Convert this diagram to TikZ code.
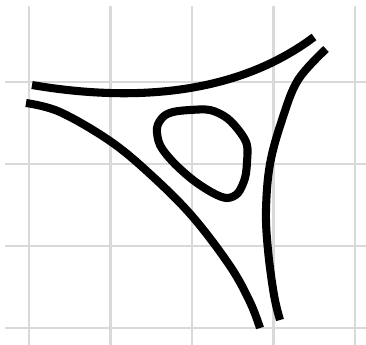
\documentclass[tikz,border=0pt]{standalone}
\begin{document}
\begin{tikzpicture}[x=1cm/82,y=-1cm/82,
  gridline/.style={draw=black!15,line width=0.7pt},
  curve/.style={draw=black,line width=2.8pt,line cap=butt}]
\useasboundingbox (0,0) rectangle (366,345);
\foreach \gx in {29,110.5,192,273.5,355}
  \draw[gridline] (\gx,6) -- (\gx,345);
\foreach \gy in {82,164,246,328}
  \draw[gridline] (5,\gy) -- (366,\gy);
% top curve
\draw[curve] (32,85) .. controls (120,100) and (230,100) .. (314,37);
% left curve
\draw[curve] plot[smooth,tension=0.6] coordinates {(26,103) (60,112) (110,141) (150,174) (192,216) (230,266) (250,302) (260,328)};
% right curve
\draw[curve] plot[smooth,tension=0.6] coordinates {(326,49) (298,80) (282,120) (270,164) (266,210) (268,250) (274,295) (280,320)};
% inner loop
\draw[curve] plot[smooth cycle,tension=0.55] coordinates {(190,110) (210,110) (227,118) (240,132) (247,145) (247,162) (245,178) (238,193) (227,198) (213,193) (193,180) (173,162) (160,145) (157,128) (163,117) (173,112)};
\end{tikzpicture}
\end{document}
